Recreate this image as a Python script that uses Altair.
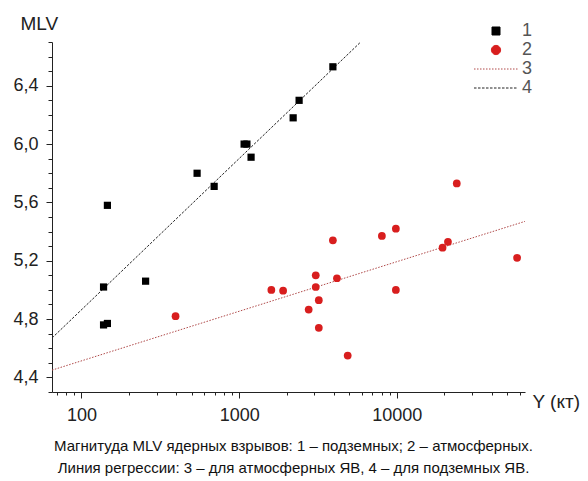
import altair as alt
import pandas as pd

# Underground explosions (series 1): yield, kt and MLV magnitude
underground_yield = [138, 138, 146, 146, 255, 541, 694, 1075, 1120, 1190, 2200, 2400, 3930]
underground_mlv = [5.02, 4.76, 5.58, 4.77, 5.06, 5.80, 5.71, 6.00, 6.00, 5.91, 6.18, 6.30, 6.53]

# Atmospheric explosions (series 2)
atmospheric_yield = [395, 1600, 1900, 2760, 3060, 3060, 3200, 3200, 3930, 4170,
                     4880, 8040, 9860, 9860, 19500, 21100, 24000, 57900]
atmospheric_mlv = [4.82, 5.00, 4.995, 4.865, 5.10, 5.02, 4.93, 4.74, 5.34, 5.08,
                   4.55, 5.37, 5.42, 5.00, 5.29, 5.33, 5.73, 5.22]

# Regression lines (end points): 3 - atmospheric, 4 - underground
line3_yield = [65, 65000]
line3_mlv = [4.45, 5.47]
line4_yield = [65, 5900]
line4_mlv = [4.67, 6.70]

series_names = ["1", "2", "3", "4"]
series_colors = ["#000000", "#d81e1e", "#b04a4a", "#222222"]
series_dashes = [[1, 0], [1, 0], [1.5, 1.5], [2.5, 1.5]]
# legend glyphs: square, dot and two dashed strokes sharing one centre
legend_shapes = [
    "M-4.25,-1H-2.25V1H-4.25Z",
    "M-4.4,0A1.15,1.15,0,1,1,-2.1,0A1.15,1.15,0,1,1,-4.4,0Z",
    "M-8.75,0H2.25",
    "M-8.75,0H2.25",
]

caption = [
    "Магнитуда MLV ядерных взрывов: 1 – подземных; 2 – атмосферных.",
    "Линия регрессии: 3 – для атмосферных ЯВ, 4 – для подземных ЯВ.",
]

x_major = [100, 1000, 10000]
x_minor = [70, 80, 90, 200, 300, 400, 500, 600, 700, 800, 900,
           2000, 3000, 4000, 5000, 6000, 7000, 8000, 9000,
           20000, 30000, 40000, 50000, 60000]
y_major = [4.4, 4.8, 5.2, 5.6, 6.0, 6.4]
y_minor = [4.3, 4.5, 4.6, 4.7, 4.9, 5.0, 5.1, 5.3, 5.4, 5.5, 5.7, 5.8, 5.9,
           6.1, 6.2, 6.3, 6.5, 6.6, 6.7]

under = pd.DataFrame({"yield": underground_yield, "mlv": underground_mlv, "series": "1"})
atmo = pd.DataFrame({"yield": atmospheric_yield, "mlv": atmospheric_mlv, "series": "2"})
points = pd.concat([under, atmo])
line3 = pd.DataFrame({"yield": line3_yield, "mlv": line3_mlv})
line4 = pd.DataFrame({"yield": line4_yield, "mlv": line4_mlv})

FONT = "Liberation Sans"
xscale = alt.Scale(type="log", domain=[65, 65000], nice=False)
yscale = alt.Scale(domain=[4.3, 6.7], nice=False, zero=False)

minor_x_axis = alt.Axis(orient="bottom", values=x_minor, labels=False, tickSize=3,
                        domain=False, grid=False, title=None, tickColor="#222")
minor_y_axis = alt.Axis(orient="left", values=y_minor, labels=False, tickSize=4,
                        domain=False, grid=False, title=None, tickColor="#222")

major_x_axis = alt.Axis(
    orient="bottom", values=x_major, tickSize=6, grid=False,
    labelExpr="format(datum.value, 'd')", labelFont=FONT, labelFontSize=18,
    labelColor="#222", labelPadding=8, tickColor="#222", domainColor="#222",
    title="Y (кт)", titleFont=FONT, titleFontSize=19, titleFontWeight="normal",
    titleColor="#222", titleAlign="left", titleBaseline="middle",
    titleX=480, titleY=9, titleAngle=0,
)
major_y_axis = alt.Axis(
    orient="left", values=y_major, tickSize=6, grid=False,
    labelExpr="replace(format(datum.value, '.1f'), '.', ',')", labelFont=FONT,
    labelFontSize=18, labelColor="#222", labelPadding=8, tickColor="#222",
    domainColor="#222",
    title="MLV", titleFont=FONT, titleFontSize=19, titleFontWeight="normal",
    titleColor="#222", titleAngle=0, titleAlign="left", titleBaseline="middle",
    titleX=-32, titleY=-19,
)

reg3 = alt.Chart(line3).mark_line(color=series_colors[2], strokeWidth=1,
                                  strokeDash=series_dashes[2]).encode(
    x=alt.X("yield:Q", scale=xscale, axis=minor_x_axis),
    y=alt.Y("mlv:Q", scale=yscale, axis=minor_y_axis),
)
reg4 = alt.Chart(line4).mark_line(color=series_colors[3], strokeWidth=1,
                                  strokeDash=series_dashes[3]).encode(
    x=alt.X("yield:Q", scale=xscale, axis=None),
    y=alt.Y("mlv:Q", scale=yscale, axis=None),
)

legend = alt.Legend(
    title=None, orient="none", legendX=448, legendY=-20, symbolSize=64,
    symbolStrokeWidth=1, symbolOpacity=1,
    labelFont=FONT, labelFontSize=18, labelColor="#555", labelOffset=4,
    rowPadding=1,
)

# invisible layer that carries the major axes and the combined legend
color_scale = alt.Scale(domain=series_names, range=series_colors)
key = alt.Chart(points).mark_point(filled=True, opacity=0, strokeWidth=1).encode(
    x=alt.X("yield:Q", scale=xscale, axis=major_x_axis),
    y=alt.Y("mlv:Q", scale=yscale, axis=major_y_axis),
    color=alt.Color("series:N", scale=color_scale, legend=legend),
    stroke=alt.Stroke("series:N", scale=color_scale, legend=legend),
    shape=alt.Shape("series:N", scale=alt.Scale(domain=series_names, range=legend_shapes),
                    legend=legend),
    strokeDash=alt.StrokeDash("series:N",
                              scale=alt.Scale(domain=series_names, range=series_dashes),
                              legend=legend),
)

squares = alt.Chart(under).mark_point(shape="square", filled=True, opacity=1,
                                      color=series_colors[0], size=52).encode(
    x=alt.X("yield:Q", scale=xscale, axis=None),
    y=alt.Y("mlv:Q", scale=yscale, axis=None),
)
dots = alt.Chart(atmo).mark_point(shape="circle", filled=True, opacity=1,
                                  color=series_colors[1], size=60).encode(
    x=alt.X("yield:Q", scale=xscale, axis=None),
    y=alt.Y("mlv:Q", scale=yscale, axis=None),
)

chart = alt.layer(reg3, reg4, key, squares, dots).resolve_axis(
    x="independent", y="independent"
).properties(
    width=473, height=350,
    autosize=alt.AutoSizeParams(type="none"),
    padding={"left": 52, "top": 42, "right": 63, "bottom": 89},
    title=alt.TitleParams(
        text=caption, orient="bottom", anchor="middle", font=FONT,
        fontSize=15, fontWeight="normal", color="#111", lineHeight=22, offset=15, dx=5,
    ),
).configure_view(stroke=None)

chart.save("out.html", embed_options={"renderer": "svg", "actions": False})
